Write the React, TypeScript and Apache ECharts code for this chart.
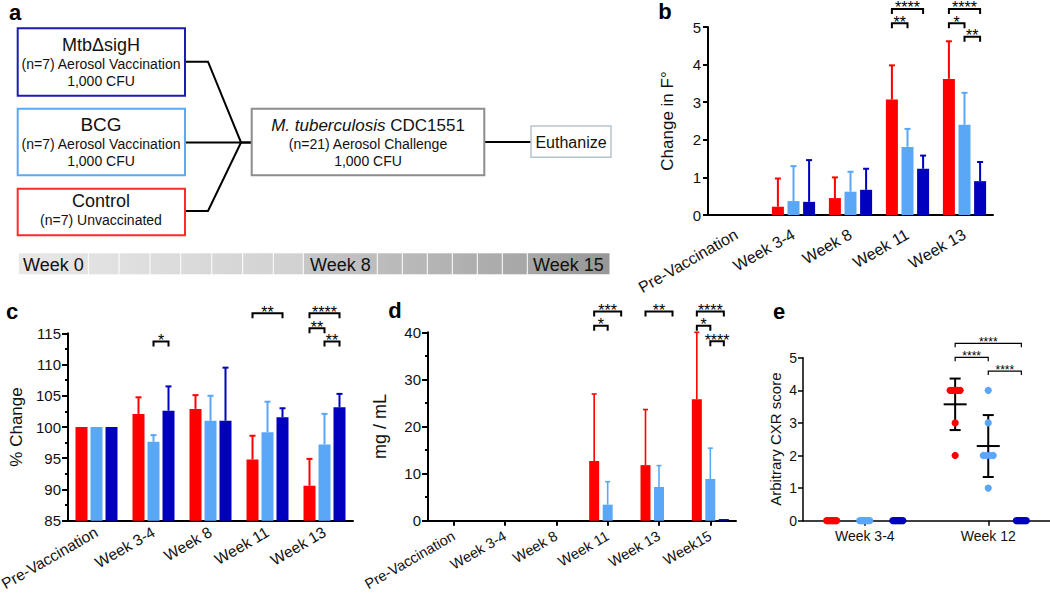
import React, { useEffect, useRef } from "react";
import * as echarts from "echarts";

const FONT = "'Liberation Sans', Arial, Helvetica, sans-serif";
const RED = "#ff0000";
const LBLUE = "#5ba7f7";
const DBLUE = "#0000bd";
const INK = "#111111";

// ---------- Panel b: change in temperature ----------
const categoriesB = ["Pre-Vaccination", "Week 3-4", "Week 8", "Week 11", "Week 13"];
const tempControl = [0, 0.22, 0.45, 3.07, 3.62];
const tempControlTop = [0, 0.97, 1.0, 3.98, 4.62];
const tempBCG = [0, 0.37, 0.62, 1.81, 2.4];
const tempBCGTop = [0, 1.3, 1.15, 2.29, 3.25];
const tempSigH = [0, 0.35, 0.67, 1.23, 0.9];
const tempSigHTop = [0, 1.46, 1.23, 1.58, 1.41];
const tempRange = [0, 5, 1];
const bracketsB = [
  { cat: 3, from: 0, to: 2, y: 5.48, label: "****" },
  { cat: 3, from: 0, to: 1, y: 5.1, label: "**" },
  { cat: 4, from: 0, to: 2, y: 5.48, label: "****" },
  { cat: 4, from: 0, to: 1, y: 5.1, label: "*" },
  { cat: 4, from: 1, to: 2, y: 4.74, label: "**" },
];

// ---------- Panel c: % weight change ----------
const categoriesC = ["Pre-Vaccination", "Week 3-4", "Week 8", "Week 11", "Week 13"];
const wtControl = [100, 102.1, 102.9, 94.8, 90.6];
const wtControlTop = [100, 104.75, 105.1, 98.6, 94.9];
const wtBCG = [100, 97.65, 101.0, 99.15, 97.2];
const wtBCGTop = [100, 98.7, 105.0, 104.05, 102.1];
const wtSigH = [100, 102.6, 101.0, 101.55, 103.15];
const wtSigHTop = [100, 106.5, 109.5, 103.0, 105.3];
const wtRange = [85, 115, 5];
const bracketsC = [
  { cat: 1, from: 1, to: 2, y: 113.7, label: "*" },
  { cat: 3, from: 0, to: 2, y: 118.2, label: "**" },
  { cat: 4, from: 0, to: 2, y: 118.2, label: "****" },
  { cat: 4, from: 0, to: 1, y: 115.8, label: "**" },
  { cat: 4, from: 1, to: 2, y: 113.7, label: "**" },
];

// ---------- Panel d: mg / mL ----------
const categoriesD = ["Pre-Vaccination", "Week 3-4", "Week 8", "Week 11", "Week 13", "Week15"];
const crpControl = [0, 0, 0, 12.67, 11.8, 25.8];
const crpControlTop = [0, 0, 0, 26.9, 23.6, 40];
const crpBCG = [0, 0, 0, 3.4, 7.15, 8.85];
const crpBCGTop = [0, 0, 0, 8.28, 11.7, 15.4];
const crpSigH = [0, 0, 0, 0, 0, 0.35];
const crpSigHTop = [0, 0, 0, 0, 0, 0.35];
const crpRange = [0, 40, 10];
const bracketsD = [
  { cat: 3, from: 0, to: 2, y: 44.4, label: "***" },
  { cat: 3, from: 0, to: 1, y: 41.4, label: "*" },
  { cat: 4, from: 0, to: 2, y: 44.4, label: "**" },
  { cat: 5, from: 0, to: 2, y: 44.4, label: "****" },
  { cat: 5, from: 0, to: 1, y: 41.4, label: "*" },
  { cat: 5, from: 1, to: 2, y: 38.1, label: "****" },
];

// ---------- Panel e: CXR score ----------
const categoriesE = ["Week 3-4", "Week 12"];
const cxrControl = [[0, 0, 0, 0, 0, 0, 0], [4, 4, 4, 4, 4, 3, 2]];
const cxrBCG = [[0, 0, 0, 0, 0, 0, 0], [4, 3, 2, 2, 2, 2, 1]];
const cxrSigH = [[0, 0, 0, 0, 0, 0, 0], [0, 0, 0, 0, 0, 0, 0]];
const cxrMeanControl = [0, 3.57];
const cxrSdControl = [0, 0.79];
const cxrMeanBCG = [0, 2.29];
const cxrSdBCG = [0, 0.95];
const cxrMeanSigH = [0, 0];
const cxrSdSigH = [0, 0];
const cxrRange = [0, 5, 1];
const bracketsE = [
  { cat: 1, from: 0, to: 2, y: 5.44, label: "****" },
  { cat: 1, from: 0, to: 1, y: 5.01, label: "****" },
  { cat: 1, from: 1, to: 2, y: 4.59, label: "****" },
];

// ---------- Panel a: texts ----------
const timelineLabels = ["Week 0", "Week 8", "Week 15"];

// ---------- helpers ----------
function catAxis(gridIndex: number, data: string[], o: any) {
  return {
    type: "category",
    gridIndex,
    data,
    boundaryGap: true,
    axisLine: { show: true, onZero: false, lineStyle: { color: "#000", width: o.lw } },
    axisTick: { show: o.ticks, alignWithLabel: true, length: 5, inside: false, lineStyle: { color: "#000", width: o.lw } },
    axisLabel: { interval: 0, rotate: o.rotate, margin: o.margin, fontSize: o.fs, fontFamily: FONT, color: INK },
    splitLine: { show: false },
  };
}

function valAxis(gridIndex: number, range: number[], name: string, o: any) {
  return {
    type: "value",
    gridIndex,
    min: range[0],
    max: range[1],
    interval: range[2],
    startValue: range[0],
    name,
    nameLocation: "middle",
    nameGap: o.nameGap,
    nameRotate: 90,
    nameTextStyle: { fontSize: o.nameFs, fontFamily: FONT, color: INK },
    axisLine: { show: true, lineStyle: { color: "#000", width: o.lw } },
    axisTick: { show: true, inside: false, length: o.tickLen, lineStyle: { color: "#000", width: o.lw } },
    minorTick: { show: o.minor, splitNumber: 2, length: 3, lineStyle: { color: "#000", width: o.lw } },
    axisLabel: { fontSize: o.fs, fontFamily: FONT, color: INK, margin: o.margin },
    splitLine: { show: false },
    minorSplitLine: { show: false },
  };
}

function bars(idx: number, data: number[], color: string, barWidth: number, barGap: string) {
  return {
    type: "bar",
    xAxisIndex: idx,
    yAxisIndex: idx,
    data,
    barWidth,
    barGap,
    silent: true,
    itemStyle: { color },
  };
}

function errBars(idx: number, values: number[], tops: number[], color: string, slot: number, off: number, lw: number, cap: number) {
  return {
    type: "custom",
    xAxisIndex: idx,
    yAxisIndex: idx,
    clip: false,
    silent: true,
    z: 3,
    data: values.map((v, i) => [i, v, tops[i]]),
    renderItem: (_p: any, api: any) => {
      const i = api.value(0);
      const v = api.value(1);
      const t = api.value(2);
      if (!(t > v + 1e-9)) return { type: "group", children: [] };
      const p0 = api.coord([i, v]);
      const p1 = api.coord([i, t]);
      const x = p0[0] + (slot - 1) * off;
      const st = { stroke: color, lineWidth: lw };
      return {
        type: "group",
        children: [
          { type: "line", shape: { x1: x, y1: p0[1], x2: x, y2: p1[1] }, style: st },
          { type: "line", shape: { x1: x - cap, y1: p1[1], x2: x + cap, y2: p1[1] }, style: st },
        ],
      };
    },
  };
}

function bracketSeries(idx: number, list: any[], off: any, lw: number, drop: number, fs: number, dy: number) {
  return {
    type: "custom",
    xAxisIndex: idx,
    yAxisIndex: idx,
    clip: false,
    silent: true,
    z: 5,
    data: list.map((b) => [b.cat, b.y]),
    renderItem: (params: any, api: any) => {
      const b = list[params.dataIndex];
      const p = api.coord([b.cat, b.y]);
      const o = typeof off === "function" ? off(api) : off;
      const x1 = p[0] + (b.from - 1) * o;
      const x2 = p[0] + (b.to - 1) * o;
      const y = p[1];
      return {
        type: "group",
        children: [
          {
            type: "polyline",
            shape: { points: [[x1, y + drop], [x1, y], [x2, y], [x2, y + drop]] },
            style: { stroke: "#000", lineWidth: lw, fill: null },
          },
          {
            type: "text",
            x: (x1 + x2) / 2,
            y: y + dy,
            style: {
              text: b.label,
              fontSize: fs,
              fontFamily: FONT,
              fill: "#000",
              align: "center",
              verticalAlign: "middle",
              textAlign: "center",
              textVerticalAlign: "middle",
            },
          },
        ],
      };
    },
  };
}

function dotSeries(groups: number[][], color: string, slot: number) {
  const pts: number[][] = [];
  groups.forEach((vals, cat) => {
    const counts: Record<string, number> = {};
    vals.forEach((v) => (counts[v] = (counts[v] || 0) + 1));
    const seen: Record<string, number> = {};
    vals.forEach((v) => {
      const k = (seen[v] = seen[v] === undefined ? 0 : seen[v] + 1);
      pts.push([cat, v, k, counts[v]]);
    });
  });
  return {
    type: "custom",
    xAxisIndex: 3,
    yAxisIndex: 3,
    clip: false,
    silent: true,
    z: 4,
    data: pts,
    renderItem: (_p: any, api: any) => {
      const cat = api.value(0);
      const v = api.value(1);
      const k = api.value(2);
      const n = api.value(3);
      const p = api.coord([cat, v]);
      const band = api.size([1, 0])[0];
      const sp = n > 1 ? Math.min(4, 10 / (n - 1)) : 0;
      const x = p[0] + (slot - 1) * band * 0.268 + (k - (n - 1) / 2) * sp;
      return { type: "circle", shape: { cx: x, cy: p[1], r: 3.6 }, style: { fill: color } };
    },
  };
}

function meanSdSeries(means: number[], sds: number[], slot: number) {
  return {
    type: "custom",
    xAxisIndex: 3,
    yAxisIndex: 3,
    clip: false,
    silent: true,
    z: 3,
    data: means.map((m, i) => [i, m, sds[i]]),
    renderItem: (_p: any, api: any) => {
      const cat = api.value(0);
      const m = api.value(1);
      const sd = api.value(2);
      if (!(sd > 0)) return { type: "group", children: [] };
      const band = api.size([1, 0])[0];
      const pm = api.coord([cat, m]);
      const ph = api.coord([cat, m + sd]);
      const pl = api.coord([cat, m - sd]);
      const x = pm[0] + (slot - 1) * band * 0.268;
      const st = { stroke: "#000", lineWidth: 2 };
      return {
        type: "group",
        children: [
          { type: "line", shape: { x1: x - 11.5, y1: pm[1], x2: x + 11.5, y2: pm[1] }, style: st },
          { type: "line", shape: { x1: x, y1: ph[1], x2: x, y2: pl[1] }, style: st },
          { type: "line", shape: { x1: x - 5.5, y1: ph[1], x2: x + 5.5, y2: ph[1] }, style: st },
          { type: "line", shape: { x1: x - 5.5, y1: pl[1], x2: x + 5.5, y2: pl[1] }, style: st },
        ],
      };
    },
  };
}

// ---------- Panel a graphics ----------
function txt(x: number, y: number, text: string, fs: number, extra: any = {}) {
  return {
    type: "text",
    x,
    y,
    silent: true,
    style: {
      text,
      fontSize: fs,
      fontFamily: FONT,
      fill: INK,
      align: "center",
      verticalAlign: "middle",
      textAlign: "center",
      textVerticalAlign: "middle",
      ...extra,
    },
  };
}
function box(x: number, y: number, w: number, h: number, stroke: string, lw: number) {
  return { type: "rect", silent: true, shape: { x, y, width: w, height: h }, style: { fill: "#fff", stroke, lineWidth: lw } };
}

function grayAt(x: number) {
  const knots = [
    [18, 232],
    [303, 209],
    [303.5, 199],
    [377, 189],
    [527, 167],
    [610, 151],
  ];
  for (let i = 0; i < knots.length - 1; i++) {
    const [xa, ga] = knots[i];
    const [xb, gb] = knots[i + 1];
    if (x <= xb) {
      const t = xb === xa ? 1 : (x - xa) / (xb - xa);
      const g = Math.round(ga + (gb - ga) * Math.max(0, Math.min(1, t)));
      return `rgb(${g},${g},${g})`;
    }
  }
  return "rgb(151,151,151)";
}

function buildGraphics() {
  const els: any[] = [];
  // panel letters
  const letter = (x: number, y: number, t: string) =>
    txt(x, y, t, 22, { fontWeight: "bold", fill: "#000" });
  els.push(letter(15, 12, "a"), letter(665, 11, "b"), letter(12, 311, "c"), letter(395, 310, "d"), letter(779, 311, "e"));

  // connectors
  const ln = { stroke: "#000", lineWidth: 2, fill: null };
  els.push({ type: "polyline", silent: true, shape: { points: [[186, 61.7], [208, 61.7], [241, 142.5], [251, 142.5]] }, style: ln });
  els.push({ type: "polyline", silent: true, shape: { points: [[186, 211], [208, 211], [241, 142.5]] }, style: ln });
  els.push({ type: "line", silent: true, shape: { x1: 186, y1: 142.5, x2: 251, y2: 142.5 }, style: ln });
  els.push({ type: "line", silent: true, shape: { x1: 485, y1: 142, x2: 531, y2: 142 }, style: ln });

  // boxes
  els.push(box(17.7, 28.3, 167.3, 67.4, "#1c1cae", 2));
  els.push(box(17.7, 108.7, 167.3, 66.6, "#5aaaf3", 2));
  els.push(box(17.7, 188.7, 167.3, 46.6, "#ff2a2a", 2));
  els.push(box(251.7, 108.7, 232.6, 66.6, "#8c8c8c", 2));
  els.push(box(531, 126, 80, 31.3, "#b6c4cb", 1.5));

  els.push(txt(101, 45, "MtbΔsigH", 18));
  els.push(txt(101, 63.5, "(n=7) Aerosol Vaccination", 14));
  els.push(txt(101, 80.5, "1,000 CFU", 14));
  els.push(txt(101, 124.5, "BCG", 19));
  els.push(txt(101, 143.5, "(n=7) Aerosol Vaccination", 14));
  els.push(txt(101, 160.5, "1,000 CFU", 14));
  els.push(txt(101, 201, "Control", 18));
  els.push(txt(101, 219.5, "(n=7) Unvaccinated", 14));
  els.push(
    txt(368, 125, "{i|M. tuberculosis} CDC1551", 17, {
      rich: { i: { fontStyle: "italic", fontSize: 17, fontFamily: FONT, fill: INK } },
    })
  );
  els.push(txt(368, 144, "(n=21) Aerosol Challenge", 14));
  els.push(txt(368, 160.5, "1,000 CFU", 14));
  els.push(txt(571, 142, "Euthanize", 16));

  // timeline
  const bounds = [18.3, 88.3, 119, 150, 180.7, 211.7, 242.7, 273.3, 303.3, 377.3, 402.3, 427.3, 452.3, 477.3, 502.3, 527.3, 610];
  for (let i = 0; i < bounds.length - 1; i++) {
    const xa = bounds[i] + 0.5;
    const xb = bounds[i + 1] - 0.5;
    els.push({
      type: "rect",
      silent: true,
      shape: { x: xa, y: 253.3, width: xb - xa, height: 21 },
      style: {
        fill: new echarts.graphic.LinearGradient(0, 0, 1, 0, [
          { offset: 0, color: grayAt(xa + 0.6) },
          { offset: 1, color: grayAt(xb - 0.6) },
        ]),
      },
    });
  }
  const tl = (x: number, t: string) => txt(x, 264.5, t, 18, { align: "left", textAlign: "left", fill: "#111" });
  els.push(tl(23, timelineLabels[0]), tl(310, timelineLabels[1]), tl(533, timelineLabels[2]));
  return els;
}

const option: any = {
  animation: false,
  backgroundColor: "#ffffff",
  textStyle: { fontFamily: FONT },
  grid: [
    { left: 708, top: 27, width: 285, height: 188, containLabel: false, outerBoundsMode: "none" },
    { left: 68, top: 333.3, width: 285, height: 187.4, containLabel: false, outerBoundsMode: "none" },
    { left: 428, top: 332.3, width: 308, height: 188.4, containLabel: false, outerBoundsMode: "none" },
    { left: 803, top: 357.7, width: 247, height: 163, containLabel: false, outerBoundsMode: "none" },
  ],
  xAxis: [
    catAxis(0, categoriesB, { lw: 2, ticks: false, rotate: 30, margin: 18, fs: 16 }),
    catAxis(1, categoriesC, { lw: 2, ticks: false, rotate: 30, margin: 10, fs: 15.5 }),
    catAxis(2, categoriesD, { lw: 2, ticks: true, rotate: 30, margin: 14, fs: 14.5 }),
    catAxis(3, categoriesE, { lw: 1.5, ticks: true, rotate: 0, margin: 8, fs: 14 }),
  ],
  yAxis: [
    valAxis(0, tempRange, "Change in F°", { lw: 2, tickLen: 5, minor: false, fs: 15, margin: 7, nameGap: 32, nameFs: 17 }),
    valAxis(1, wtRange, "% Change", { lw: 2, tickLen: 6, minor: true, fs: 15, margin: 7, nameGap: 43, nameFs: 17 }),
    valAxis(2, crpRange, "mg / mL", { lw: 2, tickLen: 6, minor: true, fs: 15, margin: 7, nameGap: 39, nameFs: 18 }),
    valAxis(3, cxrRange, "Arbitrary CXR score", { lw: 1.5, tickLen: 5, minor: false, fs: 14, margin: 6, nameGap: 20, nameFs: 15 }),
  ],
  series: [
    bars(0, tempControl, RED, 12, "30%"),
    bars(0, tempBCG, LBLUE, 12, "30%"),
    bars(0, tempSigH, DBLUE, 12, "30%"),
    errBars(0, tempControl, tempControlTop, RED, 0, 15.6, 2, 3),
    errBars(0, tempBCG, tempBCGTop, LBLUE, 1, 15.6, 2, 3),
    errBars(0, tempSigH, tempSigHTop, DBLUE, 2, 15.6, 2, 3),
    bracketSeries(0, bracketsB, 15.6, 2, 5, 16, -1),

    bars(1, wtControl, RED, 12, "25%"),
    bars(1, wtBCG, LBLUE, 12, "25%"),
    bars(1, wtSigH, DBLUE, 12, "25%"),
    errBars(1, wtControl, wtControlTop, RED, 0, 15, 2, 3),
    errBars(1, wtBCG, wtBCGTop, LBLUE, 1, 15, 2, 3),
    errBars(1, wtSigH, wtSigHTop, DBLUE, 2, 15, 2, 3),
    bracketSeries(1, bracketsC, 15, 2, 5, 16, -1),

    bars(2, crpControl, RED, 10, "35%"),
    bars(2, crpBCG, LBLUE, 10, "35%"),
    bars(2, crpSigH, DBLUE, 10, "35%"),
    errBars(2, crpControl, crpControlTop, RED, 0, 13.5, 1.6, 2.5),
    errBars(2, crpBCG, crpBCGTop, LBLUE, 1, 13.5, 1.6, 2.5),
    errBars(2, crpSigH, crpSigHTop, DBLUE, 2, 13.5, 1.6, 2.5),
    bracketSeries(2, bracketsD, 13.5, 2, 5, 16, -1),

    meanSdSeries(cxrMeanControl, cxrSdControl, 0),
    meanSdSeries(cxrMeanBCG, cxrSdBCG, 1),
    meanSdSeries(cxrMeanSigH, cxrSdSigH, 2),
    dotSeries(cxrControl, RED, 0),
    dotSeries(cxrBCG, LBLUE, 1),
    dotSeries(cxrSigH, DBLUE, 2),
    bracketSeries(3, bracketsE, (api: any) => api.size([1, 0])[0] * 0.268, 1.2, 4, 12, -1.5),
  ],
  graphic: { elements: buildGraphics() },
};

export default function App() {
  const ref = useRef<HTMLDivElement>(null);
  useEffect(() => {
    const chart = echarts.init(ref.current as HTMLDivElement, null, { renderer: "svg" });
    chart.setOption(option);
    return () => chart.dispose();
  }, []);
  return (
    <div
      ref={ref}
      style={{ position: "fixed", left: 0, top: 0, width: 1050, height: 597, background: "#fff" }}
    />
  );
}
